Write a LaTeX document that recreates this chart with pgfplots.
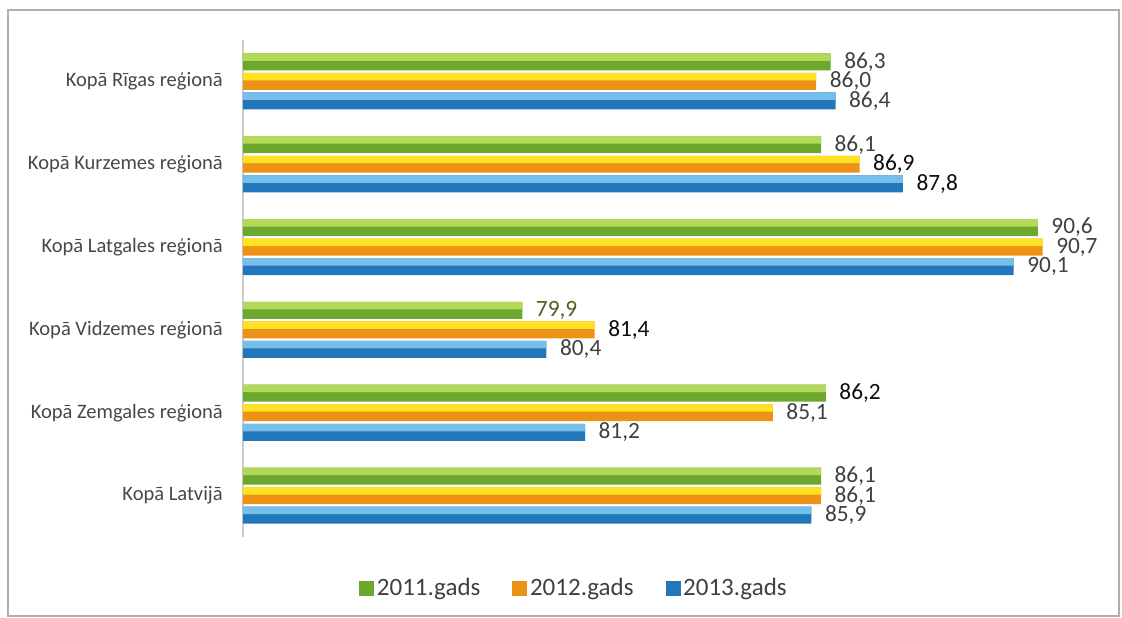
\documentclass[border=0pt]{standalone}
\usepackage{pgfplots}
\pgfplotsset{compat=1.18}
\usepackage{pgfplotstable}
\usepackage{fontspec}
\setmainfont{Carlito}

\definecolor{gbody}{RGB}{108,168,46}
\definecolor{gtop}{RGB}{180,216,88}
\definecolor{obody}{RGB}{238,146,22}
\definecolor{otop}{RGB}{255,226,36}
\definecolor{bbody}{RGB}{34,118,186}
\definecolor{btop}{RGB}{120,190,234}
\definecolor{lg}{RGB}{64,64,64}
\definecolor{lb}{RGB}{12,12,12}
\definecolor{lo}{RGB}{92,90,34}
\definecolor{catgray}{RGB}{68,72,76}
\definecolor{axisgray}{RGB}{205,205,205}
\definecolor{framegray}{RGB}{175,175,175}

% y = region index (0 = Riga, top), x = value, c = label colour
\pgfplotstableread{
y x c
0 86.3 lg
1 86.1 lg
2 90.6 lg
3 79.9 lo
4 86.2 lb
5 86.1 lg
}\gadaA
\pgfplotstableread{
y x c
0 86.0 lg
1 86.9 lb
2 90.7 lg
3 81.4 lb
4 85.1 lg
5 86.1 lg
}\gadaB
\pgfplotstableread{
y x c
0 86.4 lg
1 87.8 lb
2 90.1 lg
3 80.4 lg
4 81.2 lg
5 85.9 lg
}\gadaC

\begin{document}
\begin{tikzpicture}
\path[use as bounding box] (0,0) rectangle (841.5pt,463.5pt);
\draw[line width=1.1pt, color=framegray] (6pt,1.5pt) rectangle (839.25pt,456pt);
\begin{axis}[
    at={(182.25pt,60.75pt)}, anchor=south west,
    scale only axis, width=632.25pt, height=372.75pt,
    xmin=74.1, xmax=91.6, ymin=-0.5, ymax=5.5,
    y dir=reverse,
    axis x line=none,
    axis y line*=left,
    y axis line style={-, draw=axisgray, line width=0.8pt},
    xtick=\empty,
    ytick={0,1,2,3,4,5},
    yticklabels={Kopā Rīgas reģionā, Kopā Kurzemes reģionā, Kopā Latgales reģionā,
                 Kopā Vidzemes reģionā, Kopā Zemgales reģionā, Kopā Latvijā},
    major tick length=0pt,
    yticklabel style={font=\fontsize{15.4pt}{18pt}\selectfont, text=catgray,
                      inner sep=0pt, xshift=-15pt},
    xbar, bar width=0.205,
    clip mode=individual,
    lbl/.style={
        point meta=explicit symbolic,
        visualization depends on={\thisrow{x} \as \xv},
        nodes near coords={\pgfmathprintnumber[fixed,fixed zerofill,precision=1,use comma,assume math mode=true]{\xv}},
        every node near coord/.append style={anchor=west, inner sep=0pt, xshift=10pt,
            font=\fontsize{17.5pt}{19pt}\selectfont, text=\pgfplotspointmeta}},
    legend columns=3,
    legend style={at={(0.393,-0.103)}, anchor=center, draw=none, fill=none,
        font=\fontsize{18.75pt}{20pt}\selectfont, text=lg,
        /tikz/every even column/.append style={column sep=22pt}},
    legend image code/.code={\fill[#1, draw=none] (0pt,-5.6pt) rectangle (11.25pt,5.6pt);},
]
% 2011
\addplot[fill=gbody, draw=none, bar shift=-0.236, lbl] table[x=x, y=y, meta=c] {\gadaA};
\addlegendentry{2011.gads}
% 2012
\addplot[fill=obody, draw=none, bar shift=0, lbl] table[x=x, y=y, meta=c] {\gadaB};
\addlegendentry{2012.gads}
% 2013
\addplot[fill=bbody, draw=none, bar shift=0.236, lbl] table[x=x, y=y, meta=c] {\gadaC};
\addlegendentry{2013.gads}

% light upper stripe of each bar
\addplot[fill=gtop, draw=none, bar width=0.09, bar shift=-0.2935, forget plot] table[x=x, y=y] {\gadaA};
\addplot[fill=otop, draw=none, bar width=0.09, bar shift=-0.0575, forget plot] table[x=x, y=y] {\gadaB};
\addplot[fill=btop, draw=none, bar width=0.09, bar shift=0.1785, forget plot] table[x=x, y=y] {\gadaC};
\end{axis}
\end{tikzpicture}
\end{document}
